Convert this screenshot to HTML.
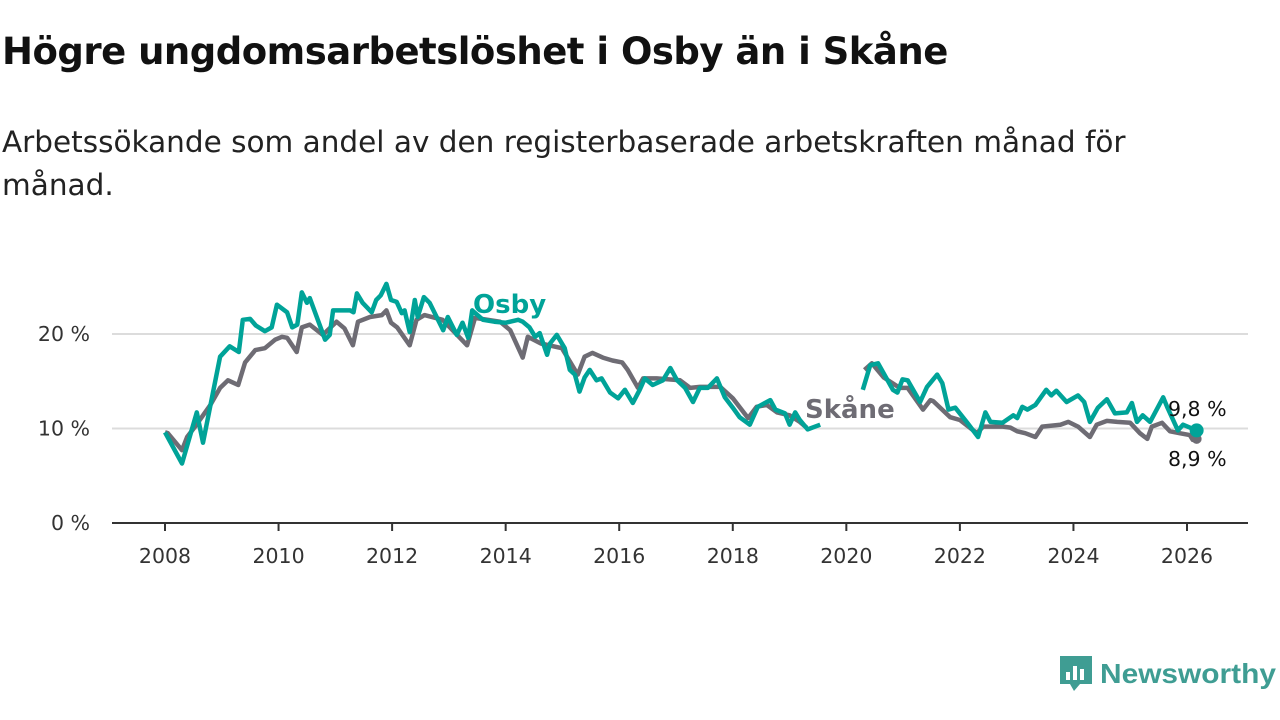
<!DOCTYPE html>
<html><head><meta charset="utf-8"><style>
body{margin:0;background:#fff;width:1280px;height:720px;overflow:hidden;font-family:"Liberation Sans","DejaVu Sans",sans-serif}
h1{position:absolute;left:2px;top:30px;margin:0;font-size:37px;font-weight:bold;color:#111;font-family:"DejaVu Sans","Liberation Sans",sans-serif;letter-spacing:-0.5px}
.sub{position:absolute;left:2px;top:121px;margin:0;font-size:29.5px;line-height:43px;color:#222;font-family:"DejaVu Sans","Liberation Sans",sans-serif;width:1185px}
svg{position:absolute;left:0;top:0}
</style></head><body>
<h1>Högre ungdomsarbetslöshet i Osby än i Skåne</h1>
<p class="sub">Arbetssökande som andel av den registerbaserade arbetskraften månad för månad.</p>
<svg id="chart" width="1280" height="720" font-family="DejaVu Sans, Liberation Sans, sans-serif"></svg>
<script>
const yTicks=[0,10,20];
const yTickLabels=["0 %","10 %","20 %"];
const xTicks=[2008,2010,2012,2014,2016,2018,2020,2022,2024,2026];
const osbyDates=[2008.0,2008.3,2008.56,2008.67,2008.97,2009.14,2009.3,2009.37,2009.5,2009.6,2009.76,2009.88,2009.97,2010.15,2010.24,2010.33,2010.41,2010.5,2010.55,2010.82,2010.9,2010.96,2011.26,2011.32,2011.38,2011.48,2011.64,2011.72,2011.8,2011.9,2011.98,2012.08,2012.17,2012.22,2012.31,2012.4,2012.45,2012.56,2012.66,2012.9,2012.98,2013.14,2013.24,2013.34,2013.41,2013.6,2013.8,2014.0,2014.22,2014.3,2014.42,2014.52,2014.6,2014.73,2014.78,2014.9,2015.04,2015.13,2015.22,2015.3,2015.39,2015.48,2015.6,2015.69,2015.84,2015.98,2016.1,2016.24,2016.36,2016.45,2016.59,2016.77,2016.9,2017.02,2017.16,2017.3,2017.42,2017.56,2017.72,2017.86,2018.0,2018.12,2018.3,2018.44,2018.66,2018.75,2018.92,2019.0,2019.1,2019.18,2019.32,2019.54,2019.9,2020.29,2020.42,2020.56,2020.82,2020.9,2020.99,2021.08,2021.3,2021.42,2021.6,2021.69,2021.8,2021.92,2022.13,2022.32,2022.45,2022.54,2022.75,2022.94,2023.01,2023.1,2023.19,2023.33,2023.52,2023.61,2023.7,2023.88,2024.08,2024.19,2024.29,2024.43,2024.59,2024.73,2024.94,2025.03,2025.12,2025.22,2025.35,2025.58,2025.65,2025.84,2025.93,2026.17];
const osbyValues=[9.6,6.3,11.7,8.5,17.6,18.7,18.1,21.5,21.6,20.9,20.3,20.7,23.1,22.3,20.7,21.0,24.4,23.3,23.8,19.4,19.9,22.5,22.5,22.3,24.3,23.3,22.3,23.6,24.1,25.3,23.6,23.4,22.2,22.5,20.2,23.6,21.8,23.9,23.3,20.4,21.8,19.9,21.2,19.6,22.5,21.5,21.3,21.2,21.5,21.3,20.7,19.7,20.1,17.8,19.0,19.9,18.5,16.2,15.7,13.9,15.4,16.2,15.1,15.3,13.8,13.2,14.1,12.7,14.1,15.3,14.6,15.1,16.4,15.1,14.3,12.8,14.3,14.3,15.3,13.3,12.2,11.2,10.4,12.3,13.0,12.0,11.6,10.4,11.7,10.9,9.9,10.4,null,14.1,16.7,16.9,14.1,13.8,15.2,15.1,12.8,14.4,15.7,14.8,12.0,12.2,10.6,9.1,11.7,10.7,10.6,11.4,11.1,12.3,12.0,12.5,14.1,13.5,14.0,12.8,13.5,12.8,10.7,12.2,13.1,11.6,11.7,12.7,10.7,11.4,10.7,13.3,12.3,9.8,10.4,9.8];
const skaneDates=[2008.0,2008.05,2008.3,2008.39,2008.53,2008.8,2008.97,2009.11,2009.29,2009.41,2009.59,2009.76,2009.94,2010.06,2010.15,2010.32,2010.41,2010.55,2010.78,2011.02,2011.16,2011.31,2011.4,2011.61,2011.82,2011.9,2011.98,2012.09,2012.31,2012.43,2012.57,2012.89,2013.32,2013.46,2013.9,2014.08,2014.3,2014.39,2014.62,2014.99,2015.27,2015.39,2015.53,2015.71,2015.88,2016.05,2016.15,2016.33,2016.42,2016.66,2017.07,2017.25,2017.42,2017.78,2018.0,2018.27,2018.42,2018.6,2018.78,2019.0,2019.18,2019.3,2019.6,2020.32,2020.45,2020.66,2020.94,2021.08,2021.35,2021.48,2021.53,2021.83,2022.0,2022.3,2022.41,2022.76,2022.89,2023.01,2023.15,2023.33,2023.45,2023.77,2023.91,2024.08,2024.29,2024.41,2024.59,2024.77,2025.0,2025.17,2025.3,2025.38,2025.56,2025.7,2025.87,2026.05,2026.1,2026.17];
const skaneValues=[9.6,9.5,7.7,9.1,10.2,12.5,14.3,15.1,14.6,17.0,18.3,18.5,19.4,19.7,19.6,18.1,20.7,21.0,19.9,21.3,20.6,18.8,21.3,21.8,22.0,22.5,21.2,20.7,18.8,21.5,22.0,21.5,18.8,21.7,21.3,20.4,17.5,19.7,19.0,18.5,15.7,17.6,18.0,17.5,17.2,17.0,16.2,14.3,15.3,15.3,15.1,14.3,14.4,14.4,13.2,11.1,12.3,12.5,11.7,11.4,10.7,10.1,null,16.2,16.9,15.4,14.3,14.3,12.0,13.0,12.9,11.2,10.9,9.5,10.2,10.2,10.1,9.7,9.5,9.1,10.2,10.4,10.7,10.2,9.1,10.4,10.8,10.7,10.6,9.5,8.9,10.2,10.6,9.7,9.5,9.3,8.8,8.9];

const NS="http://www.w3.org/2000/svg";
const svg=document.getElementById('chart');
const X=v=>165+(v-2008)*(1187-165)/18;
const Y=v=>523-v*9.45;
function mk(t,a,txt){const e=document.createElementNS(NS,t);for(const k in a)e.setAttribute(k,a[k]);if(txt!=null)e.textContent=txt;svg.appendChild(e);return e;}
yTicks.forEach((t,i)=>{
  if(t>0){const g=mk('line',{x1:112,x2:1248,y1:Y(t),y2:Y(t),stroke:'#dcdcdc','stroke-width':2});
  
  }
  const l=mk('text',{x:90,y:Y(t)+7,'text-anchor':'end','font-size':20.5,fill:'#333'},yTickLabels[i]);
  
  
});
const base=mk('line',{x1:112,x2:1248,y1:523,y2:523,stroke:'#333','stroke-width':2});


xTicks.forEach(t=>{
  const tk=mk('line',{x1:X(t),x2:X(t),y1:523,y2:531,stroke:'#333','stroke-width':2});
  
  
  const l=mk('text',{x:X(t),y:563,'text-anchor':'middle','font-size':20.5,fill:'#333'},String(t));
  
  
});
function pathOf(ds,vs){let d='',pen=false;ds.forEach((x,i)=>{const v=vs[i];if(v==null){pen=false;return;}d+=(pen?'L':'M')+X(x).toFixed(1)+','+Y(v).toFixed(1);pen=true;});return d;}
const ps=mk('path',{d:pathOf(skaneDates,skaneValues),fill:'none',stroke:'#6e6c74','stroke-width':4.5,'stroke-linejoin':'round'});


const po=mk('path',{d:pathOf(osbyDates,osbyValues),fill:'none',stroke:'#00a398','stroke-width':4.5,'stroke-linejoin':'round'});


const ds=mk('circle',{cx:X(skaneDates[skaneDates.length-1]),cy:Y(skaneValues[skaneValues.length-1]),r:5,fill:'#6e6c74'});


const dotO=mk('circle',{cx:X(osbyDates[osbyDates.length-1]),cy:Y(osbyValues[osbyValues.length-1]),r:7,fill:'#00a398'});


const lo=mk('text',{x:473,y:313,'font-size':26,'font-weight':'bold',fill:'#00a398'},'Osby');


const lsk=mk('text',{x:805,y:418,'font-size':26,'font-weight':'bold',fill:'#6e6c74'},'Skåne');


const eo=mk('text',{x:1168,y:416,'font-size':20.5,fill:'#111'},osbyValues[osbyValues.length-1].toFixed(1).replace('.',',')+' %');


const es=mk('text',{x:1168,y:466,'font-size':20.5,fill:'#111'},skaneValues[skaneValues.length-1].toFixed(1).replace('.',',')+' %');


</script>
<svg width="1280" height="720" style="pointer-events:none">
<path d="M1060 656h32v28h-12l-6 7-4-7h-10z" fill="#3f9d93"/>
<rect x="1066" y="672" width="4" height="8" fill="#fff"/><rect x="1073" y="666" width="4" height="14" fill="#fff"/><rect x="1080" y="669" width="4" height="11" fill="#fff"/>
<text x="1100" y="683" font-size="28" font-weight="bold" fill="#3f9d93" font-family="Liberation Sans, DejaVu Sans, sans-serif" textLength="176" lengthAdjust="spacingAndGlyphs">Newsworthy</text>
</svg>
</body></html>
